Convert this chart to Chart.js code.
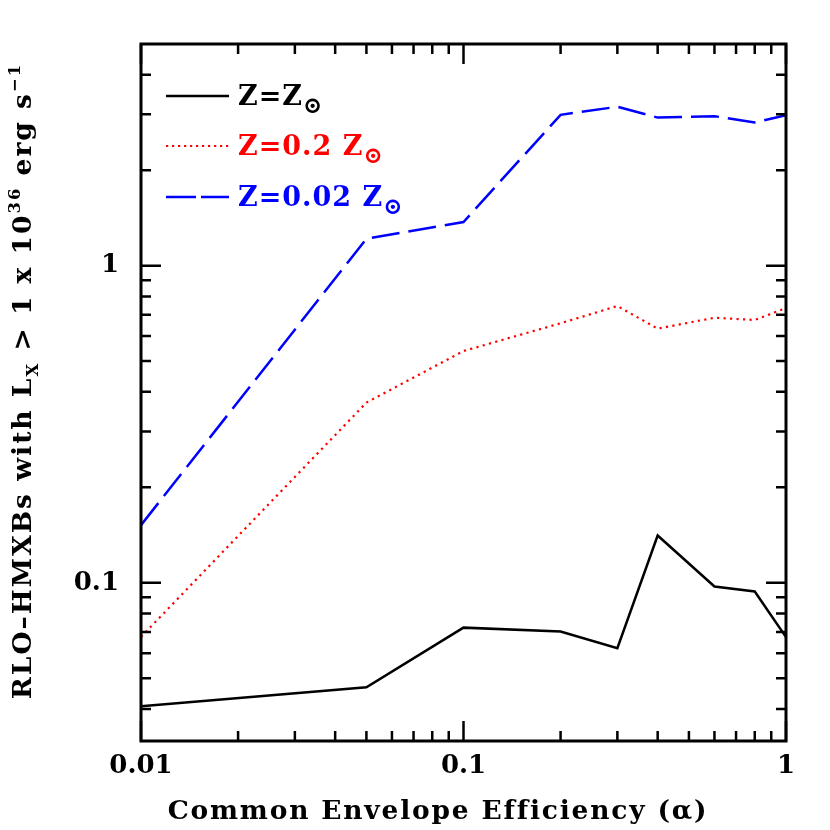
<!DOCTYPE html>
<html>
<head>
<meta charset="utf-8">
<script src="https://cdn.jsdelivr.net/npm/chart.js@4"></script>
<style>
  html, body { margin: 0; padding: 0; background: #fff; }
  #wrap { width: 830px; height: 830px; }
</style>
</head>
<body>
<div id="wrap"><canvas id="myChart" width="830" height="830"></canvas></div>
<script>
// common envelope efficiency values
const alpha = [0.01, 0.05, 0.1, 0.2, 0.3, 0.4, 0.6, 0.8, 1.0];

// number of RLO-HMXBs above 1e36 erg/s, per metallicity
const zSolar = [0.0408, 0.0468, 0.0722, 0.0702, 0.0622, 0.141, 0.0973, 0.0939, 0.0674];
const zFifth = [0.0675, 0.370, 0.538, 0.658, 0.746, 0.633, 0.685, 0.674, 0.735];
const zFiftieth = [0.152, 1.216, 1.373, 2.99, 3.17, 2.93, 2.96, 2.83, 2.98];

const seriesNames = ['Z=Z', 'Z=0.2 Z', 'Z=0.02 Z'];
const sunSymbol = '\u2299';

// tick labels / tick positions
const xMajor = [0.01, 0.1, 1];
const xMinor = [0.02, 0.03, 0.04, 0.05, 0.06, 0.07, 0.08, 0.09, 0.2, 0.3, 0.4, 0.5, 0.6, 0.7, 0.8, 0.9];
const yMajor = [0.1, 1];
const yMinor = [0.04, 0.05, 0.06, 0.07, 0.08, 0.09, 0.2, 0.3, 0.4, 0.5, 0.6, 0.7, 0.8, 0.9, 2, 3, 4];

const serif = '"DejaVu Serif", serif';

const toPoints = ys => alpha.map((a, i) => ({ x: a, y: ys[i] }));

function setFont(ctx, r, size, spacing) {
  const s = (r.sub || r.sup) ? size * (r.scale || 0.62) : size;
  ctx.font = 'bold ' + s + 'px ' + serif;
  ctx.letterSpacing = (spacing || 0) + 'px';
}

function runsWidth(ctx, runs, size, spacing) {
  let w = 0;
  runs.forEach(r => {
    setFont(ctx, r, size, spacing);
    w += ctx.measureText(r.t).width;
  });
  return w;
}

function drawRuns(ctx, runs, x, y, size, spacing) {
  let cx = x;
  runs.forEach(r => {
    setFont(ctx, r, size, spacing);
    const dy = r.sub ? size * (r.drop || 0.28) : (r.sup ? -size * 0.42 : 0);
    ctx.fillText(r.t, cx, y + dy);
    cx += ctx.measureText(r.t).width;
  });
  ctx.letterSpacing = '0px';
}

// frame with inward ticks on all four sides, titles and legend
const framePlugin = {
  id: 'frame',
  afterDatasetsDraw(chart) {
    const { ctx, chartArea: a, scales } = chart;
    ctx.save();
    ctx.strokeStyle = '#000';
    ctx.lineWidth = 2.5;
    ctx.beginPath();
    const tick = (v, len) => {
      const px = scales.x.getPixelForValue(v);
      ctx.moveTo(px, a.bottom); ctx.lineTo(px, a.bottom - len);
      ctx.moveTo(px, a.top); ctx.lineTo(px, a.top + len);
    };
    const tickY = (v, len) => {
      const py = scales.y.getPixelForValue(v);
      ctx.moveTo(a.left, py); ctx.lineTo(a.left + len, py);
      ctx.moveTo(a.right, py); ctx.lineTo(a.right - len, py);
    };
    xMajor.forEach(v => tick(v, 20));
    xMinor.forEach(v => tick(v, 10));
    yMajor.forEach(v => tickY(v, 20));
    yMinor.forEach(v => tickY(v, 10));
    ctx.stroke();
    ctx.lineWidth = 3;
    ctx.strokeRect(a.left, a.top, a.right - a.left, a.bottom - a.top);

    // x title
    ctx.fillStyle = '#000';
    ctx.textBaseline = 'alphabetic';
    ctx.textAlign = 'left';
    const xRuns = [{ t: 'Common Envelope Efficiency (\u03b1)' }];
    const xw = runsWidth(ctx, xRuns, 26.5, 1.8);
    drawRuns(ctx, xRuns, 438 - xw / 2, 819, 26.5, 1.8);

    // y title
    const yRuns = [
      { t: 'RLO\u2013HMXBs with L' }, { t: 'X', sub: true },
      { t: ' > 1 x 10' }, { t: '36', sup: true },
      { t: ' erg s' }, { t: '\u22121', sup: true }
    ];
    const yw = runsWidth(ctx, yRuns, 26.5, 2.0);
    ctx.save();
    ctx.translate(31, 381);
    ctx.rotate(-Math.PI / 2);
    drawRuns(ctx, yRuns, -yw / 2, 0, 26.5, 2.0);
    ctx.restore();

    // legend
    const rows = [96, 146, 197];
    chart.data.datasets.forEach((ds, i) => {
      ctx.save();
      ctx.strokeStyle = ds.borderColor;
      ctx.lineWidth = ds.borderWidth;
      ctx.setLineDash(ds.legendDash || []);
      ctx.beginPath();
      ctx.moveTo(166, rows[i]);
      ctx.lineTo(229, rows[i]);
      ctx.stroke();
      ctx.restore();
      ctx.fillStyle = ds.borderColor;
      drawRuns(ctx, [{ t: seriesNames[i] }, { t: sunSymbol, sub: true, scale: 0.85, drop: 0.3 }],
        238, rows[i] + 9, 27, 1);
    });
    ctx.restore();
  }
};

const ctx = document.getElementById('myChart').getContext('2d');
const chart = new Chart(ctx, {
  type: 'line',
  data: {
    datasets: [
      {
        label: seriesNames[0],
        data: toPoints(zSolar),
        borderColor: '#000000',
        borderWidth: 2.5
      },
      {
        label: seriesNames[1],
        data: toPoints(zFifth),
        borderColor: '#ff0000',
        borderWidth: 2.2,
        borderDash: [2.2, 4.3],
        legendDash: [2.2, 3.8]
      },
      {
        label: seriesNames[2],
        data: toPoints(zFiftieth),
        borderColor: '#0000ff',
        borderWidth: 2.5,
        borderDash: [28, 9],
        legendDash: [30, 5]
      }
    ]
  },
  options: {
    responsive: false,
    animation: false,
    layout: { padding: { top: 44, right: 44, left: 0, bottom: 0 } },
    elements: {
      point: { radius: 0 },
      line: { tension: 0, fill: false, borderCapStyle: 'butt' }
    },
    plugins: {
      legend: { display: false },
      tooltip: { enabled: false }
    },
    scales: {
      x: {
        type: 'logarithmic',
        min: 0.01,
        max: 1,
        afterBuildTicks: scale => { scale.ticks = xMajor.map(v => ({ value: v })); },
        afterFit: scale => { scale.height = 89; },
        grid: { display: false, drawTicks: false },
        border: { display: false },
        ticks: {
          color: '#000',
          padding: 10,
          maxRotation: 0,
          font: { family: serif, size: 26, weight: 'bold' },
          callback: v => String(v)
        }
      },
      y: {
        type: 'logarithmic',
        min: 0.0317,
        max: 5.0,
        afterBuildTicks: scale => { scale.ticks = yMajor.map(v => ({ value: v })); },
        afterFit: scale => { scale.width = 141; },
        grid: { display: false, drawTicks: false },
        border: { display: false },
        ticks: {
          color: '#000',
          padding: 22,
          font: { family: serif, size: 26, weight: 'bold' },
          callback: v => String(v)
        }
      }
    }
  },
  plugins: [framePlugin]
});
</script>
</body>
</html>
